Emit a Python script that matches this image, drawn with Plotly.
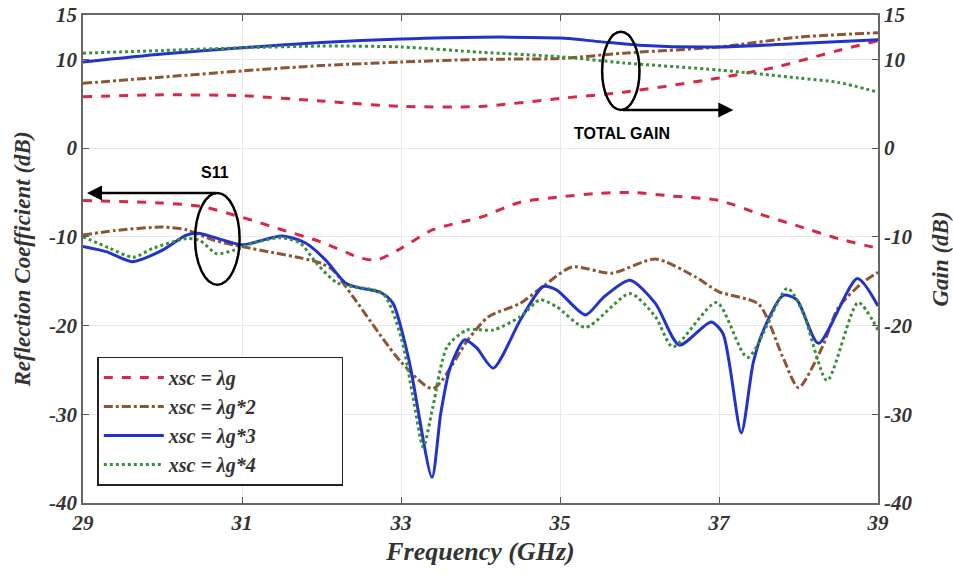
import plotly.graph_objects as go

# ---- Data ----
legend_names = ["xsc = λg", "xsc = λg*2", "xsc = λg*3", "xsc = λg*4"]

# Total gain (right axis, dB)
gain1_f = [29, 30, 31, 32, 33, 34, 35, 35.8, 37, 37.7, 38.5, 39]
gain1_v = [5.8, 6.0, 5.9, 5.3, 4.7, 4.7, 5.6, 6.3, 7.9, 9.1, 11.0, 12.1]

gain2_f = [29, 30, 31, 32, 33, 34, 35, 35.8, 37, 38, 39]
gain2_v = [7.3, 8.0, 8.7, 9.3, 9.7, 10.0, 10.1, 10.7, 11.4, 12.5, 13.0]

gain3_f = [29, 30, 31, 32, 33, 34, 35, 35.5, 36, 37, 38, 39]
gain3_v = [9.7, 10.6, 11.3, 11.9, 12.3, 12.5, 12.4, 12.0, 11.6, 11.4, 11.8, 12.2]

gain4_f = [29, 30, 31, 32, 33, 34, 35, 35.8, 37, 38, 38.5, 39]
gain4_v = [10.7, 11.0, 11.3, 11.5, 11.4, 10.8, 10.3, 9.6, 8.8, 7.9, 7.4, 6.3]

# Reflection coefficient S11 (left axis, dB)
s11_1_f = [29, 30, 30.5, 31, 31.5, 32, 32.5, 32.7, 33, 33.4, 34, 34.5, 35, 35.5,
           35.9, 36.4, 37, 37.5, 38, 38.5, 39]
s11_1_v = [-5.9, -6.2, -6.6, -7.8, -9.2, -10.6, -12.4, -12.6, -11.3, -9.2, -7.8, -6.1,
           -5.5, -5.1, -5.0, -5.4, -5.9, -7.4, -8.8, -10.2, -11.3]

s11_2_f = [29, 29.4, 30, 30.3, 30.65, 31, 31.4, 31.75, 32, 32.15, 32.4, 33, 33.4,
           33.85, 34.1, 34.5, 34.8, 35.15, 35.65, 36.2, 36.7, 37, 37.5, 37.8, 38,
           38.3, 38.5, 38.8, 39]
s11_2_v = [-9.8, -9.3, -8.9, -9.2, -10.4, -11.1, -11.8, -12.4, -13.0, -13.8, -16.8,
           -24.1, -27.1, -21.5, -19.0, -17.5, -15.5, -13.4, -14.1, -12.5, -14.5, -16.2,
           -17.6, -23.5, -27.0, -22.4, -18.0, -15.2, -14.0]

s11_3_f = [29, 29.3, 29.62, 30, 30.3, 30.45, 30.7, 31, 31.5, 31.8, 32.05, 32.3, 32.45,
           32.75, 32.9, 33.1, 33.39, 33.5, 33.62, 33.8, 33.95, 34.16, 34.5, 34.79,
           34.96, 35.32, 35.55, 35.88, 36.2, 36.5, 36.9, 37.05, 37.28, 37.43, 37.56,
           37.81, 37.98, 38.25, 38.74, 39]
s11_3_v = [-11.1, -11.7, -12.8, -11.5, -9.8, -9.6, -10.2, -10.9, -9.9, -10.7, -12.6,
           -15.2, -15.7, -16.3, -17.5, -23.9, -37.1, -29.9, -24.7, -21.6, -22.5, -24.8,
           -19.4, -15.6, -16.0, -18.8, -16.8, -14.9, -17.5, -22.2, -19.6, -20.9, -32.1,
           -24.2, -20.5, -16.6, -17.1, -22.0, -14.7, -17.8]

s11_4_f = [29, 29.34, 29.63, 29.88, 30.3, 30.47, 30.68, 30.9, 31.14, 31.48, 31.73,
           31.94, 32.2, 32.77, 33, 33.15, 33.28, 33.4, 33.58, 33.83, 34.16, 34.5,
           34.75, 34.96, 35.32, 35.88, 36.2, 36.42, 36.97, 37.36, 37.86, 38.06, 38.36,
           38.75, 39]
s11_4_v = [-10.0, -11.3, -12.3, -11.3, -10.2, -10.4, -11.9, -11.5, -10.7, -10.1, -10.7,
           -13.0, -15.2, -16.4, -21.3, -28.0, -33.7, -29.2, -22.4, -20.5, -20.5, -19.0,
           -17.1, -17.9, -20.2, -16.4, -19.0, -22.4, -17.4, -23.6, -15.8, -18.6, -26.2,
           -17.4, -20.5]

x_ticks = [29, 31, 33, 35, 37, 39]
y_ticks = [-40, -30, -20, -10, 0, 10, 15]

colors = ["#d8284a", "#8e5535", "#2233cc", "#3a8f3a"]
dashes = ["dash", "dashdot", "solid", "dot"]

gain_sets = [(gain1_f, gain1_v), (gain2_f, gain2_v), (gain3_f, gain3_v), (gain4_f, gain4_v)]
s11_sets = [(s11_1_f, s11_1_v), (s11_2_f, s11_2_v), (s11_3_f, s11_3_v), (s11_4_f, s11_4_v)]

pad = "\u00a0" * 16
fig = go.Figure()
for i in range(4):
    fx, fy = s11_sets[i]
    fig.add_trace(go.Scatter(
        x=fx, y=fy, mode="lines", name=legend_names[i] + pad, legendgroup=str(i),
        line=dict(color=colors[i], dash=dashes[i], width=3, shape="spline", smoothing=0.7),
        yaxis="y"))
for i in range(4):
    gx, gy = gain_sets[i]
    fig.add_trace(go.Scatter(
        x=gx, y=gy, mode="lines", name=legend_names[i], legendgroup=str(i), showlegend=False,
        line=dict(color=colors[i], dash=dashes[i], width=3, shape="spline", smoothing=0.7),
        yaxis="y2"))

tick_font = dict(family="Liberation Serif", size=21, color="#333333", weight="bold", style="italic")
title_font_y = dict(family="Liberation Serif", size=23, color="#333333", weight="bold", style="italic")
title_font_x = dict(family="Liberation Serif", size=26, color="#333333", weight="bold", style="italic")

fig.update_layout(
    width=953, height=575,
    margin=dict(l=83, r=75, t=15, b=72),
    paper_bgcolor="white", plot_bgcolor="white",
    showlegend=True,
    legend=dict(x=0.018, y=0.30, xanchor="left", yanchor="top",
                bordercolor="#222222", borderwidth=1.5, bgcolor="white",
                font=dict(family="Liberation Serif", size=20, color="#333333",
                          weight="bold", style="italic"),
                tracegroupgap=0, itemwidth=60),
    xaxis=dict(range=[29, 39], tickvals=x_ticks, ticktext=[str(v) for v in x_ticks],
               ticks="inside", ticklen=6, tickcolor="#555555",
               showline=True, linecolor="#666666", linewidth=1.5, mirror="ticks",
               showgrid=True, gridcolor="#e8e8e8", gridwidth=1, zeroline=False,
               tickfont=tick_font, automargin=False,
               title=dict(text="Frequency (GHz)", font=title_font_x, standoff=8)),
    yaxis=dict(range=[-40, 15], tickvals=y_ticks, ticktext=[str(v) for v in y_ticks],
               ticks="inside", ticklen=6, tickcolor="#555555",
               showline=True, linecolor="#666666", linewidth=1.5,
               showgrid=True, gridcolor="#e8e8e8", gridwidth=1, zeroline=False,
               tickfont=tick_font, automargin=False,
               title=dict(text="Reflection Coefficient (dB)", font=title_font_y, standoff=12)),
    yaxis2=dict(range=[-40, 15], tickvals=y_ticks, ticktext=[str(v) for v in y_ticks],
                overlaying="y", side="right",
                ticks="inside", ticklen=6, tickcolor="#555555",
                showline=True, linecolor="#666666", linewidth=1.5,
                showgrid=False, zeroline=False, tickfont=tick_font, automargin=False,
                title=dict(text="Gain (dB)", font=title_font_y, standoff=20)),
)

# Ellipses marking the two groups of curves
fig.add_shape(type="circle", xref="x", yref="y", x0=30.41, x1=30.97, y0=-15.4, y1=-5.07,
              line=dict(color="black", width=2.5))
fig.add_shape(type="circle", xref="x", yref="y", x0=35.53, x1=36.0, y0=4.3, y1=13.1,
              line=dict(color="black", width=2.5))

# Arrows
fig.add_annotation(x=29.05, y=-5.07, ax=30.69, ay=-5.07, xref="x", yref="y",
                   axref="x", ayref="y", text="", showarrow=True,
                   arrowhead=2, arrowsize=1.2, arrowwidth=2.5, arrowcolor="black")
fig.add_annotation(x=37.18, y=4.3, ax=35.77, ay=4.3, xref="x", yref="y",
                   axref="x", ayref="y", text="", showarrow=True,
                   arrowhead=2, arrowsize=1.2, arrowwidth=2.5, arrowcolor="black")

# Labels
fig.add_annotation(x=30.66, y=-2.7, xref="x", yref="y", text="<b>S11</b>", showarrow=False,
                   font=dict(family="Liberation Sans", size=16, color="black"))
fig.add_annotation(x=35.78, y=1.7, xref="x", yref="y", text="<b>TOTAL GAIN</b>", showarrow=False,
                   font=dict(family="Liberation Sans", size=16, color="black"))

# remove the default 8px page margin so the figure sits at the window origin
fig.write_html("out.html", config={"displayModeBar": False},
               post_script="document.body.style.margin='0px';")
